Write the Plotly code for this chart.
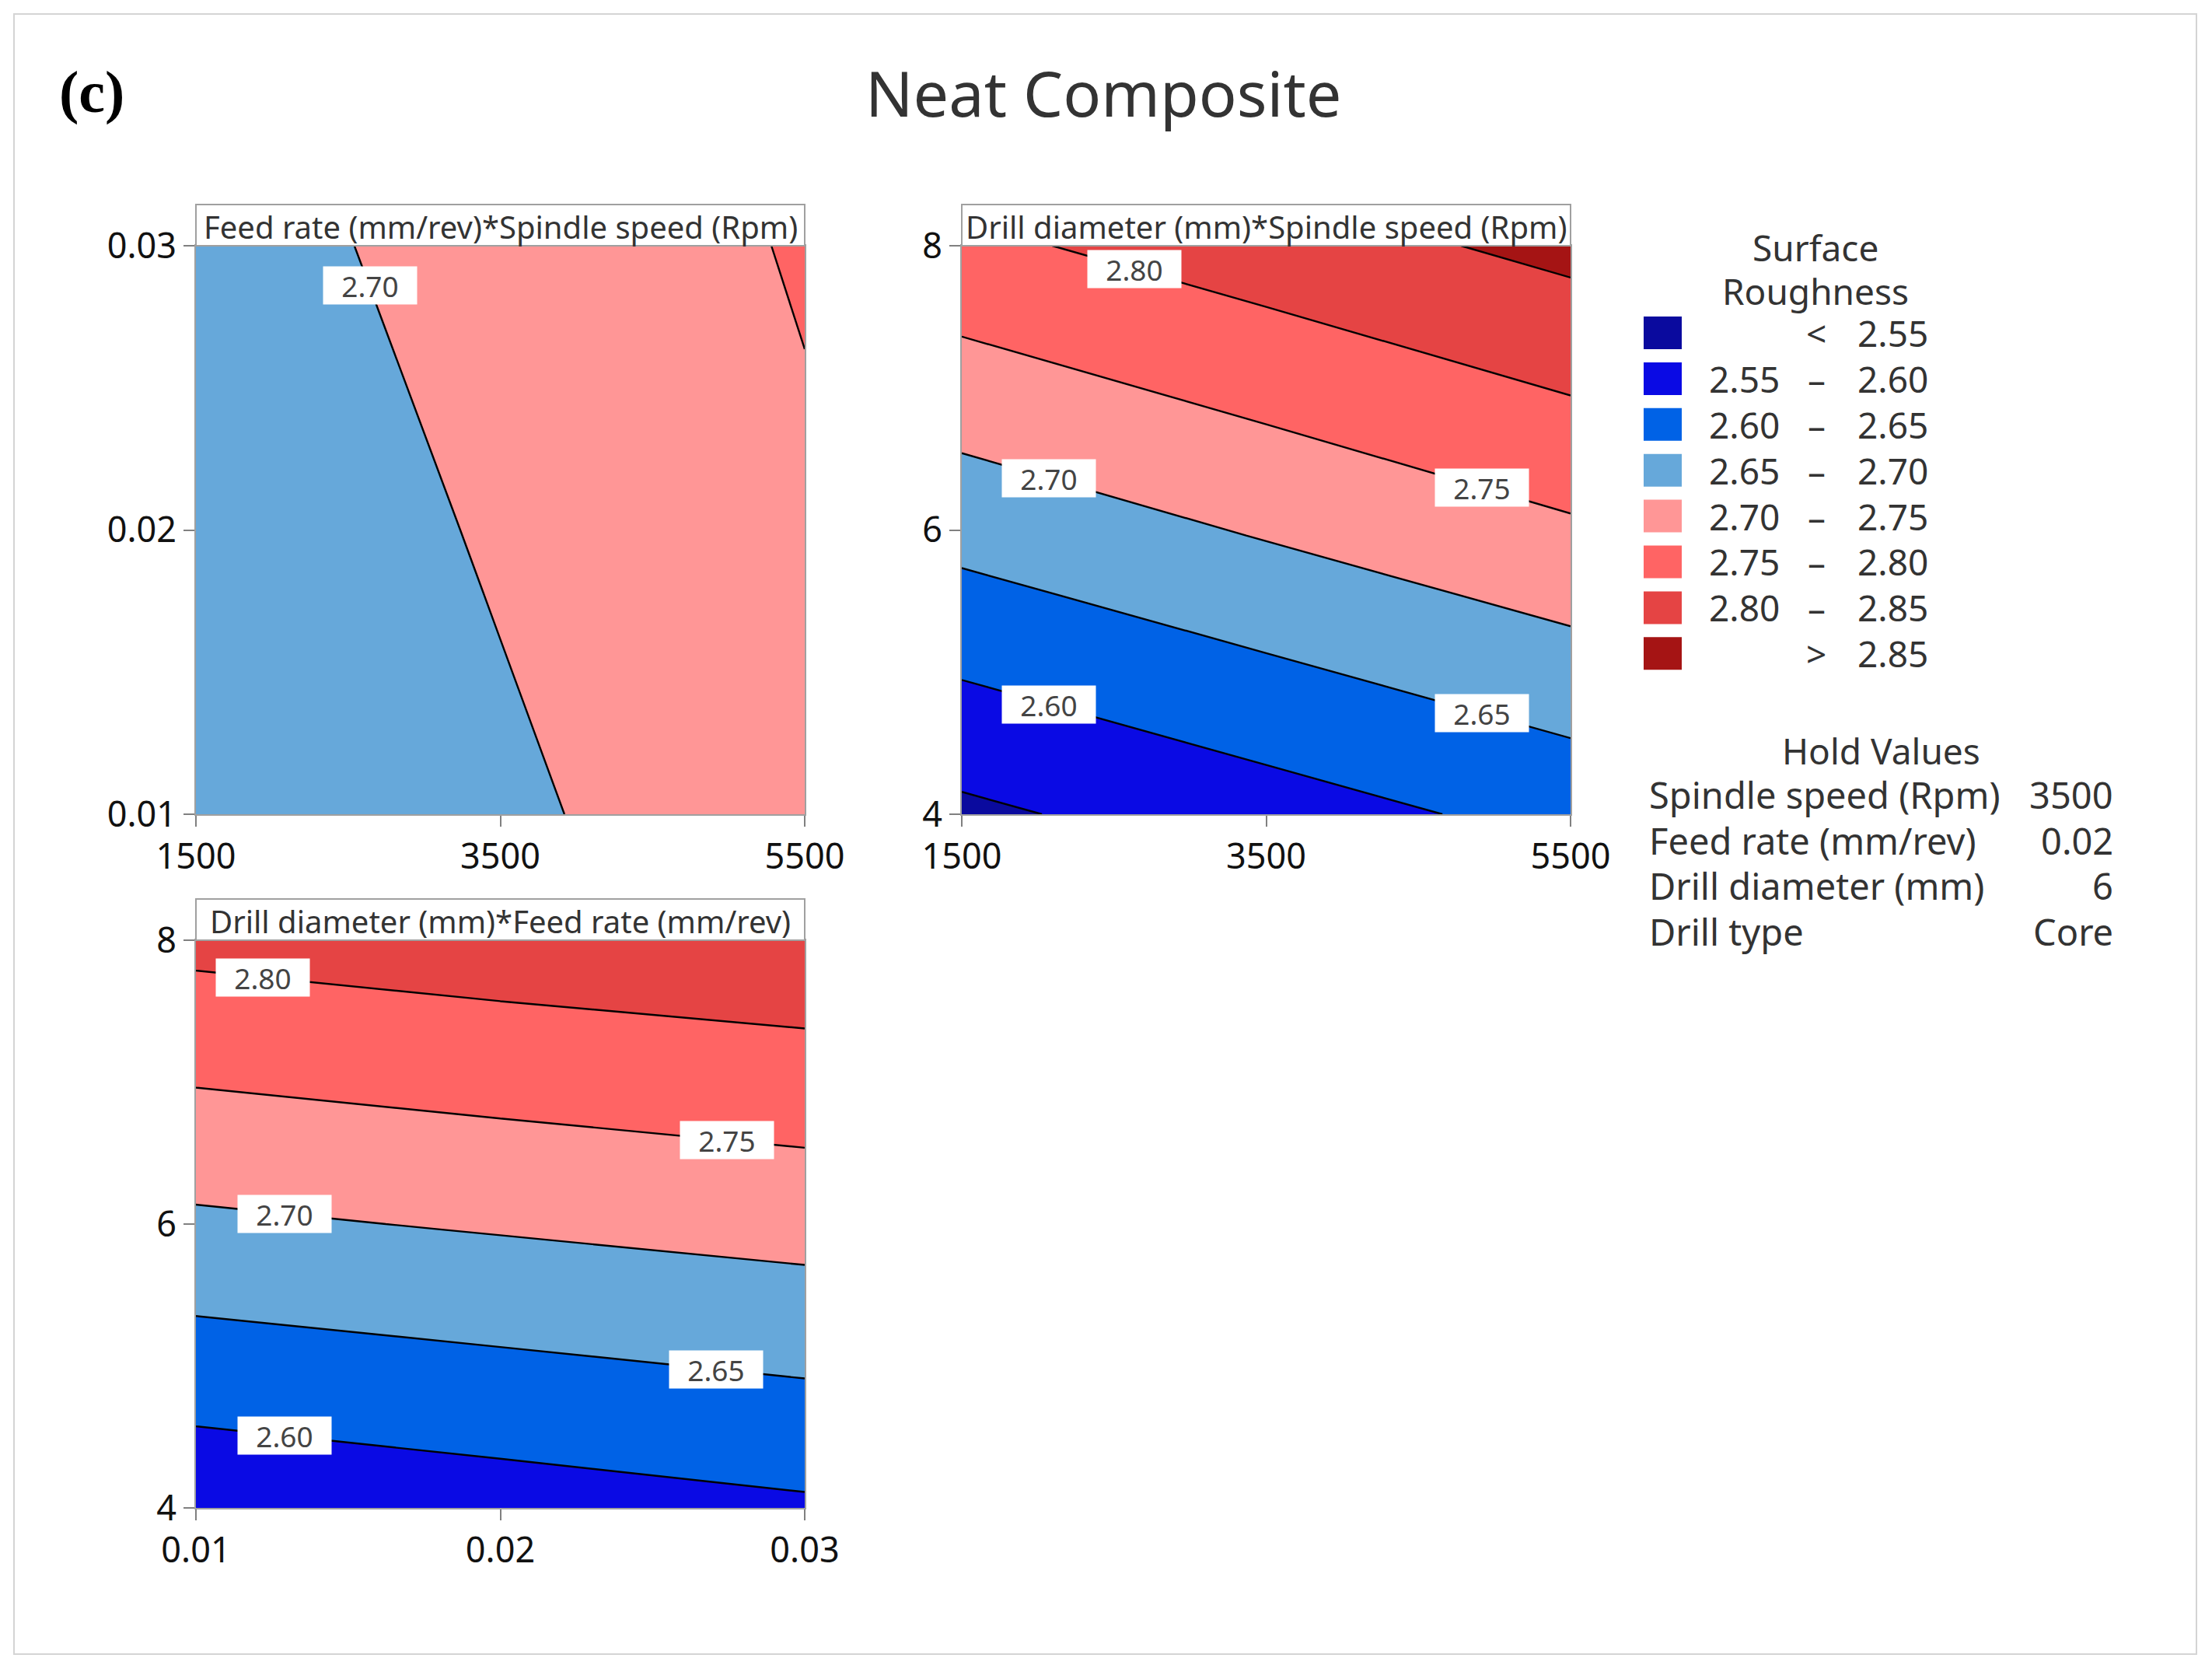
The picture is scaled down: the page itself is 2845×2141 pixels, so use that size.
import plotly.graph_objects as go
import numpy as np

# factor settings
spindle = [1500, 3500, 5500]
feed = [0.01, 0.02, 0.03]
diameter = [4, 6, 8]

# surface roughness (rows = y values, cols = x values)
z_feed_spindle = [[2.654, 2.692, 2.730],
                  [2.667, 2.705, 2.743],
                  [2.681, 2.7175, 2.754]]
z_diam_spindle = [[2.540, 2.578, 2.616],
                  [2.667, 2.705, 2.743],
                  [2.789, 2.826, 2.8635]]
z_diam_feed = [[2.563, 2.578, 2.593],
               [2.6917, 2.705, 2.718],
               [2.813, 2.826, 2.837]]

levels = [2.55, 2.60, 2.65, 2.70, 2.75, 2.80, 2.85]
band_colors = ["#0A0A9E", "#0A0AE4", "#0062E6", "#66A8DA",
               "#FF9696", "#FF6464", "#E54444", "#A51414"]
band_labels = [("", "<", "2.55"), ("2.55", "–", "2.60"), ("2.60", "–", "2.65"),
               ("2.65", "–", "2.70"), ("2.70", "–", "2.75"), ("2.75", "–", "2.80"),
               ("2.80", "–", "2.85"), ("", ">", "2.85")]

hold_names = ["Spindle speed (Rpm)", "Feed rate (mm/rev)", "Drill diameter (mm)", "Drill type"]
hold_values = ["3500", "0.02", "6", "Core"]

W, H = 2845, 2141
OFF = 8  # page margin of the html body
FONT = "Noto Sans"


def px(xp):
    return (xp - OFF) / W


def py(yp):
    return 1 - (yp - OFF) / H


def label(fig, x, y, s, size=45, xanchor="center", color="#333333", family=FONT):
    fig.add_annotation(xref="paper", yref="paper", x=px(x), y=py(y), text=s,
                       showarrow=False, xanchor=xanchor, yanchor="middle",
                       font=dict(family=family, size=size, color=color))


colorscale = [[i / 7, c] for i, c in enumerate(band_colors)]

fig = go.Figure()

panels = [
    dict(x=spindle, y=feed, z=z_feed_spindle, ax="", box=(252, 1035, 316, 1047),
         title="Feed rate (mm/rev)*Spindle speed (Rpm)"),
    dict(x=spindle, y=diameter, z=z_diam_spindle, ax="2", box=(1237, 2020, 316, 1047),
         title="Drill diameter (mm)*Spindle speed (Rpm)"),
    dict(x=feed, y=diameter, z=z_diam_feed, ax="3", box=(252, 1035, 1209, 1939),
         title="Drill diameter (mm)*Feed rate (mm/rev)"),
]

for p in panels:
    fig.add_trace(go.Contour(
        x=p["x"], y=p["y"], z=p["z"],
        xaxis="x" + p["ax"], yaxis="y" + p["ax"],
        contours=dict(start=levels[0], end=levels[-1], size=0.05, coloring="fill"),
        line=dict(color="black", width=2.4),
        colorscale=colorscale,
        showscale=False,
    ))
    x0, x1, y0, y1 = p["box"]
    ax_style = dict(showline=True, linecolor="#A0A0A0", linewidth=2, mirror=True,
                    ticks="outside", ticklen=14, tickwidth=2, tickcolor="#808080",
                    showgrid=False, zeroline=False, automargin=False,
                    tickfont=dict(family=FONT, size=45, color="#111111"))
    fig.layout["xaxis" + p["ax"]] = dict(
        domain=[px(x0), px(x1)], anchor="y" + p["ax"],
        range=[p["x"][0], p["x"][-1]], tickvals=p["x"], **ax_style)
    fig.layout["yaxis" + p["ax"]] = dict(
        domain=[py(y1), py(y0)], anchor="x" + p["ax"],
        range=[p["y"][0], p["y"][-1]], tickvals=p["y"], **ax_style)
    # strip header
    fig.add_shape(type="rect", xref="paper", yref="paper",
                  x0=px(x0), x1=px(x1), y0=py(y0), y1=py(y0 - 53),
                  line=dict(color="#A0A0A0", width=2), fillcolor="white")
    label(fig, (x0 + x1) / 2, y0 - 25, p["title"], size=40)


def y_on_level(xs, ys, z, xq, level):
    col = [np.interp(xq, xs, row) for row in z]
    return float(np.interp(level, col, ys))


def x_on_level(xs, ys, z, yq, level):
    zz = np.array(z)
    row = [np.interp(yq, ys, zz[:, j]) for j in range(len(xs))]
    return float(np.interp(level, row, xs))


# contour labels
label_spots = [
    ("", spindle, feed, z_feed_spindle, [(2.70, None, 0.0286)]),
    ("2", spindle, diameter, z_diam_spindle,
     [(2.80, 2634, None), (2.70, 2072, None), (2.60, 2072, None),
      (2.75, 4918, None), (2.65, 4918, None)]),
    ("3", feed, diameter, z_diam_feed,
     [(2.80, 0.0122, None), (2.70, 0.0129, None), (2.60, 0.0129, None),
      (2.75, 0.02745, None), (2.65, 0.0271, None)]),
]
for ax, xs, ys, z, spots in label_spots:
    for lvl, xq, yq in spots:
        if xq is None:
            xq = x_on_level(xs, ys, z, yq, lvl)
        else:
            yq = y_on_level(xs, ys, z, xq, lvl)
        fig.add_annotation(x=xq, y=yq, xref="x" + ax, yref="y" + ax,
                           text="%.2f" % lvl, showarrow=False,
                           xanchor="center", yanchor="middle",
                           bgcolor="white", width=118, height=46,
                           font=dict(family=FONT, size=37, color="#444444"))

# legend for the bands
label(fig, 2335, 318, "Surface", size=46)
label(fig, 2335, 374, "Roughness", size=46)
for i, (c, (lo, sep, hi)) in enumerate(zip(band_colors, band_labels)):
    cy = 428 + 58.9 * i
    fig.add_shape(type="rect", xref="paper", yref="paper",
                  x0=px(2114), x1=px(2163), y0=py(cy + 21), y1=py(cy - 21),
                  line=dict(width=0), fillcolor=c)
    if lo:
        label(fig, 2291, cy, lo, size=46, xanchor="right")
    label(fig, 2336, cy, sep, size=46)
    label(fig, 2387, cy, hi, size=46, xanchor="left")

# hold values
label(fig, 2419, 965, "Hold Values", size=46)
for i, (name, val) in enumerate(zip(hold_names, hold_values)):
    cy = 1022 + 58.5 * i
    label(fig, 2119, cy, name, size=47, xanchor="left")
    label(fig, 2720, cy, val, size=47, xanchor="right")

# titles
label(fig, 1419, 118, "Neat Composite", size=81)
label(fig, 74, 118, "<b>(c)</b>", size=76, xanchor="left", color="black",
      family="Liberation Serif")

# outer frame
fig.add_shape(type="rect", xref="paper", yref="paper",
              x0=px(18), x1=px(2825), y0=py(2127), y1=py(18),
              line=dict(color="#D4D4D4", width=2))

fig.update_layout(
    width=W, height=H,
    margin=dict(l=0, r=0, t=0, b=0, autoexpand=False),
    paper_bgcolor="white", plot_bgcolor="white",
    showlegend=False,
)

fig.write_html("out.html")
